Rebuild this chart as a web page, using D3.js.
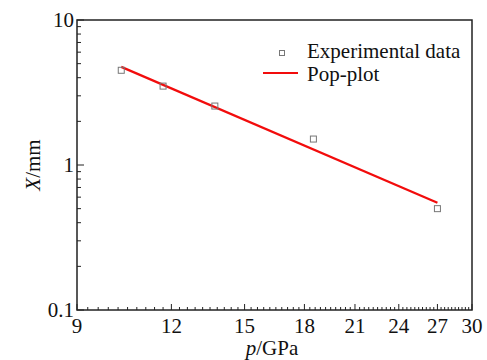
<!DOCTYPE html>
<html><head><meta charset="utf-8">
<script src="https://cdn.jsdelivr.net/npm/d3@7"></script>
<style>body{margin:0;background:#fff}svg{display:block}text{font-family:"Liberation Serif","Times New Roman",serif;fill:#111}</style>
</head><body><svg id="c" width="487" height="360"></svg>
<script>
const expP = [10.3, 11.7, 13.7, 18.5, 27.0];
const expX = [4.5, 3.5, 2.55, 1.51, 0.5];
const fitP = [10.3, 27.0];
const fitX = [4.75, 0.55];
const xTicks = [9, 12, 15, 18, 21, 24, 27, 30];
const yTicks = [0.1, 1, 10];
const yTickLabels = ["0.1", "1", "10"];

const svg = d3.select("#c");
const L = 77, R = 472, T = 20, B = 310;
const FS = 21;
const x = d3.scaleLog().domain([9, 30]).range([L, R]);
const y = d3.scaleLog().domain([0.1, 10]).range([B, T]);

const xMinor = d3.range(90, 301, 3).map(v => v / 10).filter(v => !xTicks.includes(v));
const yMinor = [];
[0.1, 1].forEach(d => { for (let k = 2; k <= 9; k++) yMinor.push(d * k); });

const g = svg.append("g");
g.selectAll(".xm").data(xMinor).enter().append("line")
  .attr("x1", d => x(d)).attr("x2", d => x(d)).attr("y1", B).attr("y2", B - 3)
  .attr("stroke", "#222").attr("stroke-width", 1);
g.selectAll(".xM").data(xTicks).enter().append("line")
  .attr("x1", d => x(d)).attr("x2", d => x(d)).attr("y1", B).attr("y2", B - 6)
  .attr("stroke", "#222").attr("stroke-width", 1);
g.selectAll(".ym").data(yMinor).enter().append("line")
  .attr("y1", d => y(d)).attr("y2", d => y(d)).attr("x1", L).attr("x2", L + 4)
  .attr("stroke", "#222").attr("stroke-width", 1);
g.selectAll(".yM").data(yTicks).enter().append("line")
  .attr("y1", d => y(d)).attr("y2", d => y(d)).attr("x1", L).attr("x2", L + 7)
  .attr("stroke", "#222").attr("stroke-width", 1);

svg.append("rect").attr("x", L).attr("y", T).attr("width", R - L).attr("height", B - T)
  .attr("fill", "none").attr("stroke", "#222").attr("stroke-width", 1.5);

svg.selectAll(".xl").data(xTicks).enter().append("text")
  .attr("x", d => x(d)).attr("y", B + 23).attr("text-anchor", "middle")
  .attr("font-size", FS).text(d => d);
svg.selectAll(".yl").data(yTicks).enter().append("text")
  .attr("x", L - 3).attr("y", d => y(d) + 7).attr("text-anchor", "end")
  .attr("font-size", FS).text((d, i) => yTickLabels[i]);

const xt = svg.append("text").attr("x", 272).attr("y", 355).attr("text-anchor", "middle").attr("font-size", FS);
xt.append("tspan").attr("font-style", "italic").text("p");
xt.append("tspan").text("/GPa");
const yt = svg.append("text").attr("transform", "translate(40,165) rotate(-90)").attr("text-anchor", "middle").attr("font-size", FS);
yt.append("tspan").attr("font-style", "italic").text("X");
yt.append("tspan").text("/mm");

const line = d3.line().x(d => x(d[0])).y(d => y(d[1]));
svg.append("path").datum(fitP.map((p, i) => [p, fitX[i]]))
  .attr("d", line).attr("fill", "none").attr("stroke", "#f20c0c").attr("stroke-width", 2.2);

svg.selectAll(".pt").data(expP.map((p, i) => [p, expX[i]])).enter().append("rect")
  .attr("x", d => x(d[0]) - 3).attr("y", d => y(d[1]) - 3)
  .attr("width", 6).attr("height", 6).attr("fill", "none").attr("stroke", "#777").attr("stroke-width", 1);

svg.append("rect").attr("x", 279.5).attr("y", 50.5).attr("width", 5).attr("height", 5)
  .attr("fill", "none").attr("stroke", "#777").attr("stroke-width", 1);
svg.append("text").attr("x", 307).attr("y", 58).attr("font-size", FS).text("Experimental data");
svg.append("line").attr("x1", 263).attr("x2", 298).attr("y1", 73).attr("y2", 73)
  .attr("stroke", "#f20c0c").attr("stroke-width", 2.2);
svg.append("text").attr("x", 307).attr("y", 81).attr("font-size", FS).text("Pop-plot");
</script></body></html>
